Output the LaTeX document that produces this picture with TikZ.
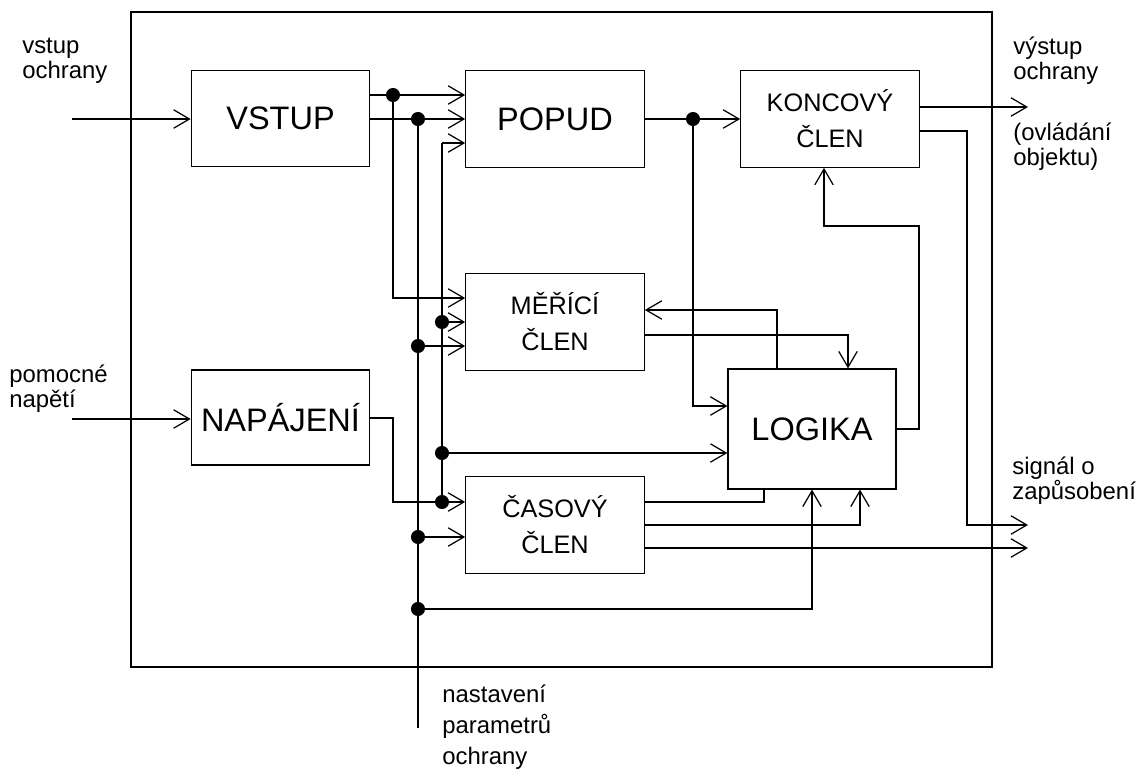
\documentclass[tikz,border=0pt]{standalone}
\usepackage{fontspec}
\setmainfont{Liberation Sans}
\usetikzlibrary{arrows.meta,positioning}
\tikzset{
blok/.style={rectangle,draw=black,line width=0.7pt,minimum width=3.57cm,
  minimum height=1.93cm,inner sep=0pt,align=center},
velky/.style={font=\fontsize{18.5}{22}\selectfont},
maly/.style={font=\fontsize{14.4}{20.5}\selectfont},
popis/.style={align=left,inner sep=0pt,font=\fontsize{13.6}{14}\selectfont},
spoj/.style={line width=0.7pt},
sipka/.style={spoj,-{Straight Barb[length=9pt,width=10.5pt,line width=0.7pt]}},
uzel/.style={fill=black}
}
\begin{document}
\begin{tikzpicture}[x=0.02cm,y=-0.02cm]
\useasboundingbox (0,0) rectangle (1146,774);
\draw[spoj] (131,12) rectangle (992,667);
% bloky
\node[blok,velky] (vstup) at (280.5,118.5) {VSTUP};
\node[blok,velky] (popud) at (555,119) {POPUD};
\node[blok,maly] (koncovy) at (830,119) {KONCOVÝ\\ČLEN};
\node[blok,maly] (merici) at (555,322) {MĚŘÍCÍ\\ČLEN};
\node[blok,velky,minimum height=1.9cm] (napajeni) at (280.5,417.5) {NAPÁJENÍ};
\node[blok,maly] (casovy) at (555,525) {ČASOVÝ\\ČLEN};
\node[blok,velky,minimum width=3.36cm,minimum height=2.4cm] (logika) at (812,429) {LOGIKA};
% popisy (kotva = posledni radek)
\node[popis,anchor=base west] (vstuplab) at (22,78) {vstup\\ochrany};
\node[popis,anchor=base west] (pomlab) at (9,407) {pomocné\\napětí};
\node[popis,anchor=base west] (vystlab) at (1013,79) {výstup\\ochrany};
\node[popis,anchor=base west] (ovllab) at (1013,165) {(ovládání\\objektu)};
\node[popis,anchor=base west] (siglab) at (1012,499) {signál o\\zapůsobení};
\node[popis,anchor=base west,font=\fontsize{13.6}{17.5}\selectfont] (nastlab) at (442,764) {nastavení\\parametrů\\ochrany};
% body
\foreach \n/\x/\y in {d1/393/95,d2/418/119,d3/442/322,d4/418/346,d5/442/453,
  d6/442/502,d7/418/537,d8/418/609,d9/693/119}
  \coordinate (\n) at (\x,\y);
\coordinate (vin) at (72,119);
\coordinate (pin) at (72,419);
\coordinate (par) at (418,728);
\coordinate (pop3) at (442,143);
\coordinate (nap) at (393,418);
\coordinate (mer1) at (393,298);
\coordinate (log1) at (777,310);
\coordinate (mer2) at (848,335);
\coordinate (kon1) at (919,429);
\coordinate (kon2) at (824,226);
\coordinate (cas1) at (764,502);
\coordinate (cas2) at (860,525);
\coordinate (cas3) at (1028,548);
\coordinate (log2) at (812,609);
\coordinate (vyst) at (1028,107);
\coordinate (sig) at (967,131);
\coordinate (sig2) at (1028,525);
% spoje
\draw[sipka] (vin) -- (vstup.west |- vin);
\draw[sipka] (pin) -- (napajeni.west |- pin);
\draw[sipka] (vstup.east |- d1) -- (popud.west |- d1);
\draw[sipka] (vstup.east |- d2) -- (popud.west |- d2);
\draw[sipka] (d6 |- pop3) -- (popud.west |- pop3);
\draw[spoj] (pop3) -- (d6);
\draw[sipka] (d1) |- (merici.west |- mer1);
\draw[spoj] (d2) -- (par);
\draw[sipka] (d3) -- (merici.west |- d3);
\draw[sipka] (d4) -- (merici.west |- d4);
\draw[sipka] (d5) -- (logika.west |- d5);
\draw[sipka] (napajeni.east |- nap) -- (nap) |- (casovy.west |- d6);
\draw[sipka] (d7) -- (casovy.west |- d7);
\draw[sipka] (d8) -| (logika.south -| log2);
\draw[spoj] (casovy.east |- cas1) -| (logika.south -| cas1);
\draw[sipka] (casovy.east |- cas2) -| (logika.south -| cas2);
\draw[sipka] (casovy.east |- cas3) -- (cas3);
\draw[sipka] (popud.east |- d9) -- (koncovy.west |- d9);
\draw[sipka] (d9) |- (logika.west |- 0,406);
\draw[sipka] (logika.north -| log1) -- (log1) -- (merici.east |- log1);
\draw[sipka] (merici.east |- mer2) -| (logika.north -| mer2);
\draw[sipka] (logika.east |- kon1) -- (kon1) |- (kon2) -- (koncovy.south -| kon2);
\draw[sipka] (koncovy.east |- vyst) -- (vyst);
\draw[sipka] (koncovy.east |- sig) -- (sig) |- (sig2);
\foreach \n in {d1,d2,d3,d4,d5,d6,d7,d8,d9}
  \fill[uzel] (\n) circle[radius=4pt];
\end{tikzpicture}
\end{document}
